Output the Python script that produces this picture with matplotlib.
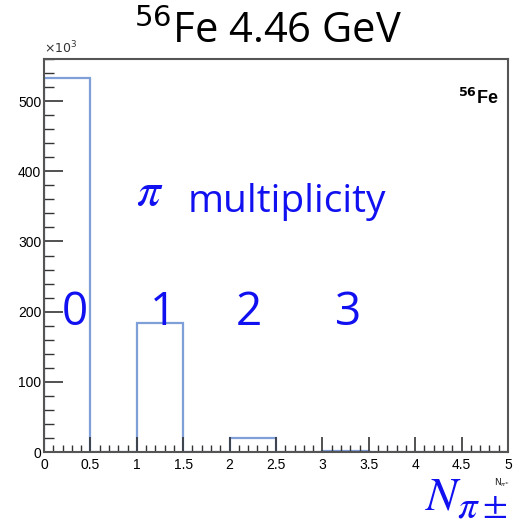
import matplotlib.pyplot as plt
from matplotlib.ticker import MultipleLocator, AutoMinorLocator, FormatStrFormatter

# pion multiplicity histogram, bin width 0.5
bin_edges = [0, 0.5, 1, 1.5, 2, 2.5, 3, 3.5, 4, 4.5, 5]
counts_k = [533, 0, 184, 0, 20, 0, 1.5, 0, 0, 0]  # in units of 10^3
labels = ["0", "1", "2", "3"]
label_x = [0.334, 1.282, 2.209, 3.276]

fig = plt.figure(figsize=(5.13, 5.25), dpi=100)
ax = fig.add_axes([44 / 513, 1 - 452 / 525, 464 / 513, 393 / 525])

ax.stairs(counts_k, bin_edges, color="#7f9fd8", linewidth=1.6)
ax.set_xlim(0, 5)
ax.set_ylim(0, 560)

ax.xaxis.set_major_locator(MultipleLocator(0.5))
ax.xaxis.set_minor_locator(AutoMinorLocator(5))
ax.xaxis.set_major_formatter(FormatStrFormatter("%g"))
ax.yaxis.set_major_locator(MultipleLocator(100))
ax.yaxis.set_minor_locator(AutoMinorLocator(5))
ax.tick_params(which="both", direction="in", top=False, right=False,
               labelsize=10, colors="#333333", labelcolor="black")
ax.tick_params(axis="x", which="major", length=11, width=1.2, pad=4)
ax.tick_params(axis="x", which="minor", length=5, width=1.0)
ax.tick_params(axis="y", which="major", length=14, width=1.2, pad=2)
ax.tick_params(axis="y", which="minor", length=7, width=1.0)
for t in ax.get_xticklabels() + ax.get_yticklabels():
    t.set_family("Liberation Sans")
for sp in ax.spines.values():
    sp.set_color("#555555")
    sp.set_linewidth(1.5)

fig.text(44 / 513, 1 - 56 / 525, r"$\times10^{3}$", fontsize=9, ha="left",
         va="bottom", color="#333333")

fig.text(0.523, 1 - 43 / 525, r"$^{56}$Fe 4.46 GeV", fontsize=30,
         family="Open Sans", ha="center", va="baseline")
ax.text(0.98, 0.9, r"$^{\mathbf{56}}$Fe", transform=ax.transAxes,
        fontsize=13, fontweight="bold", family="Liberation Sans",
        ha="right", va="center")

ax.text((150 - 44) / 464, (452 - 205) / 393, r"$\pi$", transform=ax.transAxes,
        fontsize=34, color="#1010f0", ha="center", va="baseline",
        math_fontfamily="stix")
ax.text((188 - 44) / 464, (452 - 212) / 393, "multiplicity", transform=ax.transAxes,
        fontsize=28, color="#1010f0", family="Open Sans", ha="left", va="baseline")
for lbl, xpos in zip(labels, label_x):
    ax.text(xpos, (452 - 325) / 393, lbl, transform=ax.get_xaxis_transform(),
            fontsize=33, color="#1010f0", family="Open Sans", ha="center",
            va="baseline")

# axis title: N with pi-plus-minus subscript, set in pieces
blue = "#1010f0"
fig.text(425 / 513, 1 - 510 / 525, r"$N$", fontsize=34,
         color=blue, ha="left", va="baseline", math_fontfamily="stix")
fig.text(457 / 513, 1 - 518 / 525, r"$\pi$", fontsize=28,
         color=blue, ha="left", va="baseline", math_fontfamily="stix")
fig.text(482 / 513, 1 - 515 / 525, r"$\pm$", fontsize=26,
         color=blue, ha="left", va="baseline", math_fontfamily="stix")
fig.text(1 - 3 / 513, 1 - 483 / 525, r"$\mathrm{N}_{\pi^{\pm}}$", fontsize=6.5,
         color="#222222", ha="right", va="center")

fig.savefig("out.png", dpi=100)
